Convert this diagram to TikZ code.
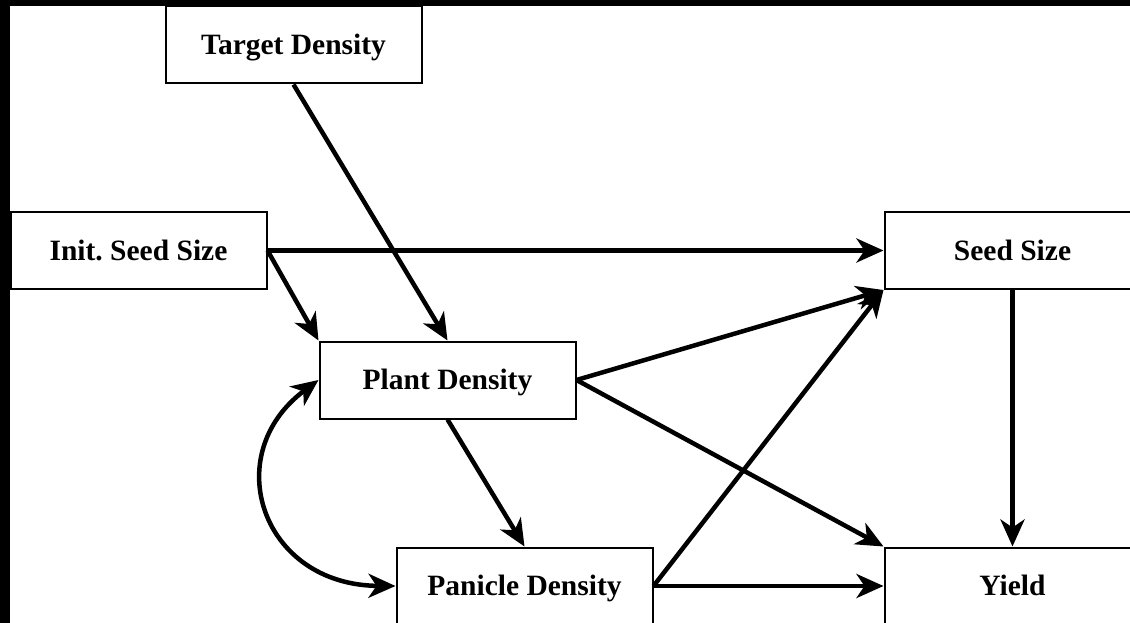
\documentclass[tikz,border=0pt]{standalone}
\usepackage{fontspec}
\setmainfont{Liberation Serif}
\usetikzlibrary{arrows.meta}
\frenchspacing
\begin{document}
\begin{tikzpicture}[x=1pt,y=-1pt,
  var/.style={draw=black, line width=2pt, fill=white, minimum width=256pt,
    minimum height=77pt, inner sep=0pt, text height=19.5pt, text depth=0pt,
    font=\fontsize{29.5}{33}\selectfont\bfseries},
  path/.style={draw=black, line width=4.5pt, -{Stealth[length=27pt,width=24pt,inset=8pt]}},
  both/.style={draw=black, line width=4.5pt,
    {Stealth[length=27pt,width=24pt,inset=8pt]}-{Stealth[length=27pt,width=24pt,inset=8pt]}}]
  \useasboundingbox (0,0) rectangle (1130,623);
  \clip (0,0) rectangle (1130,623);
  \fill[white] (0,0) rectangle (1130,623);
  % dark strips along the left and top edges
  \fill[black] (0,0) rectangle (10,623);
  \fill[black] (0,0) rectangle (1130,6);

  % variables
  \node[var] (target)  at (293.5,45)   {Target Density};
  \node[var] (init)    at (138.5,250.5) {Init. Seed Size};
  \node[var] (seed)    at (1012.5,250.5) {Seed Size};
  \node[var] (plant)   at (447.5,380)   {Plant Density};
  \node[var] (panicle) at (524.5,586)   {Panicle Density};
  \node[var] (yield)   at (1012.5,586)  {Yield};

  % paths
  \draw[path] (init.east) -- (seed.west);
  \draw[path] (init.east) -- (plant.north west);
  \draw[path] (target.south) -- (plant.north);
  \draw[path] (plant.east) -- (seed.south west);
  \draw[path] (plant.east) -- (yield.north west);
  \draw[path] (plant.south) -- (panicle.north);
  \draw[path] (panicle.east) -- (seed.south west);
  \draw[path] (panicle.east) -- (yield.west);
  \draw[path] (seed.south) -- (yield.north);

  % correlation between plant and panicle density
  \draw[both] (plant.west) .. controls (218,455) and (262,585) .. (panicle.west);
\end{tikzpicture}
\end{document}
